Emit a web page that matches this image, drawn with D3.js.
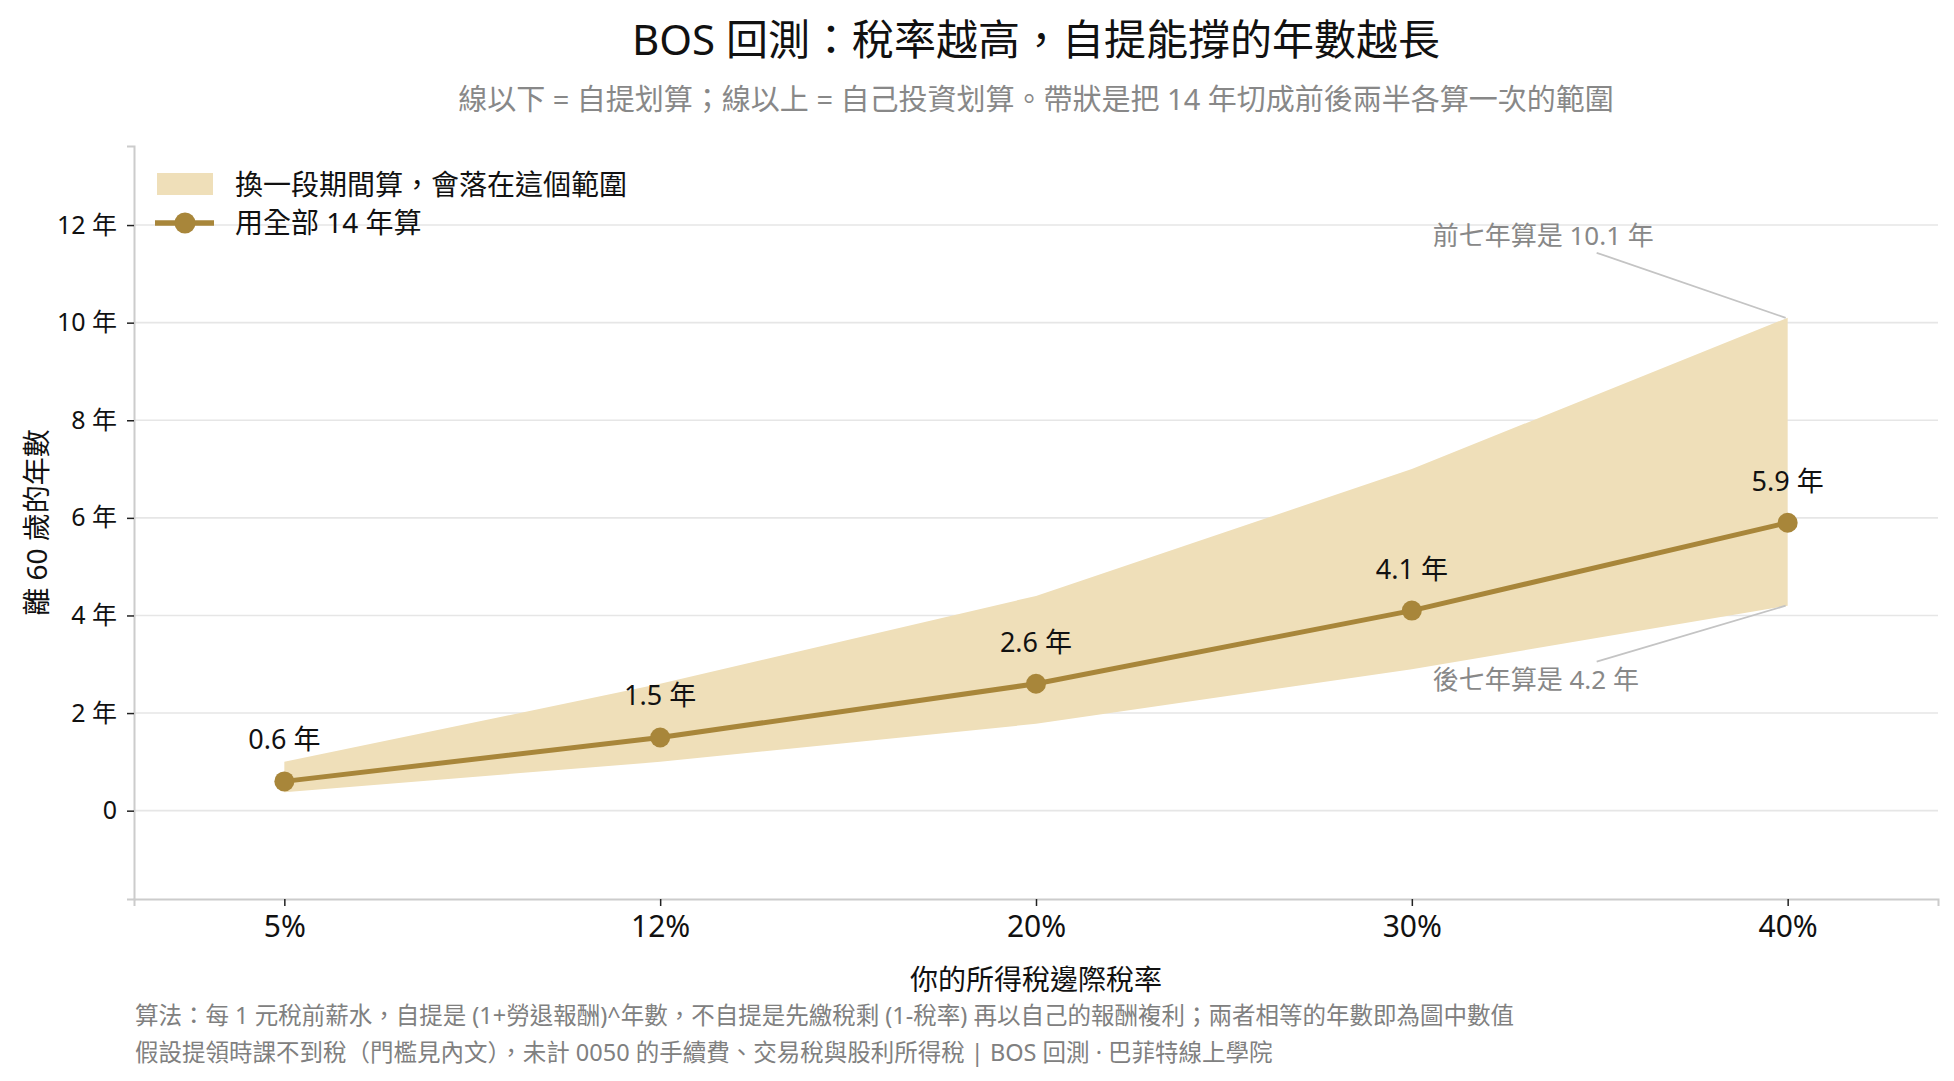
<!DOCTYPE html>
<html>
<head>
<meta charset="utf-8">
<script src="https://cdn.jsdelivr.net/npm/d3@7"></script>
<style>
  body { margin: 0; background: #fff; }
  svg text { font-family: "Noto Sans", "Noto Sans CJK TC", sans-serif; }
</style>
</head>
<body>
<div id="chart"></div>
<script>
// chart data
var rates = ["5%", "12%", "20%", "30%", "40%"];
var fullYears = [0.6, 1.5, 2.6, 4.1, 5.9];      // 用全部 14 年算
var bandHigh = [1.0, 2.6, 4.4, 7.0, 10.1];       // 前七年算
var bandLow = [0.38, 1.0, 1.78, 2.9, 4.2];       // 後七年算
var yTicks = [0, 2, 4, 6, 8, 10, 12];

var svgWidth = 1954;
var svgHeight = 1081;
var margin = { top: 146, right: 16, bottom: 182, left: 134 };
var width = svgWidth - margin.left - margin.right;
var height = svgHeight - margin.top - margin.bottom;

var lineColor = "#a8863a";
var bandColor = "#efdfb9";

var svg = d3.select("#chart").append("svg")
    .attr("width", svgWidth)
    .attr("height", svgHeight);

var chartGroup = svg.append("g")
    .attr("transform", `translate(${margin.left}, ${margin.top})`);

// scales
var xScale = d3.scaleLinear()
    .domain([-0.4, rates.length - 1 + 0.4])
    .range([0, width]);

var yScale = d3.scaleLinear()
    .domain([-1.81, 13.62])
    .range([height, 0]);

// gridlines
chartGroup.append("g")
    .selectAll("line")
    .data(yTicks)
    .enter()
    .append("line")
    .attr("x1", 0)
    .attr("x2", width)
    .attr("y1", d => yScale(d))
    .attr("y2", d => yScale(d))
    .attr("stroke", "#e6e6e6")
    .attr("stroke-width", 1.6);

// band
var area = d3.area()
    .x((d, i) => xScale(i))
    .y0((d, i) => yScale(bandLow[i]))
    .y1((d, i) => yScale(bandHigh[i]));

chartGroup.append("path")
    .datum(rates)
    .attr("d", area)
    .attr("fill", bandColor);

// axes
var xAxis = d3.axisBottom(xScale)
    .tickValues(d3.range(rates.length))
    .tickFormat(i => rates[i])
    .tickSize(7)
    .tickPadding(10);

var yAxis = d3.axisLeft(yScale)
    .tickValues(yTicks)
    .tickFormat(d => d === 0 ? "0" : d + " 年")
    .tickSize(7)
    .tickPadding(10);

var xg = chartGroup.append("g")
    .attr("transform", `translate(0, ${height})`)
    .call(xAxis);
xg.selectAll("text").attr("font-size", 30).attr("fill", "#111");

var yg = chartGroup.append("g").call(yAxis);
yg.selectAll("text").attr("font-size", 25).attr("fill", "#111");

[xg, yg].forEach(function(g) {
  g.select(".domain").attr("stroke", "#cccccc").attr("stroke-width", 2);
  g.selectAll(".tick line").attr("stroke", "#222").attr("stroke-width", 1.5);
});

// main line + points
var line = d3.line()
    .x((d, i) => xScale(i))
    .y(d => yScale(d));

chartGroup.append("path")
    .datum(fullYears)
    .attr("d", line)
    .attr("fill", "none")
    .attr("stroke", lineColor)
    .attr("stroke-width", 5)
    .attr("stroke-linejoin", "round");

chartGroup.selectAll("circle.pt")
    .data(fullYears)
    .enter()
    .append("circle")
    .attr("class", "pt")
    .attr("cx", (d, i) => xScale(i))
    .attr("cy", d => yScale(d))
    .attr("r", 10)
    .attr("fill", lineColor);

// value labels
chartGroup.selectAll("text.val")
    .data(fullYears)
    .enter()
    .append("text")
    .attr("class", "val")
    .attr("x", (d, i) => xScale(i))
    .attr("y", d => yScale(d) - 32)
    .attr("text-anchor", "middle")
    .attr("font-size", 27)
    .attr("fill", "#111")
    .text(d => d.toFixed(1) + " 年");

// annotations for the last band edge
var last = rates.length - 1;
var notes = [
  { value: bandHigh[last], text: "前七年算是 " + bandHigh[last].toFixed(1) + " 年", dy: -82, edge: 17 },
  { value: bandLow[last], text: "後七年算是 " + bandLow[last].toFixed(1) + " 年", dy: 74, edge: -18 }
];
notes.forEach(function(n) {
  var px = xScale(last), py = yScale(n.value);
  chartGroup.append("line")
      .attr("x1", px - 191)
      .attr("y1", py + n.dy + n.edge)
      .attr("x2", px - 2)
      .attr("y2", py)
      .attr("stroke", "#c4c4c4")
      .attr("stroke-width", 1.8);
  chartGroup.append("text")
      .attr("x", px - 355)
      .attr("y", py + n.dy)
      .attr("dy", "0.36em")
      .attr("font-size", 26)
      .attr("fill", "#888")
      .text(n.text);
});

// legend
var legend = svg.append("g");
legend.append("rect")
    .attr("x", 157).attr("y", 173)
    .attr("width", 56).attr("height", 22)
    .attr("fill", bandColor);
legend.append("text")
    .attr("x", 235).attr("y", 185).attr("dy", "0.36em")
    .attr("font-size", 28).attr("fill", "#111")
    .text("換一段期間算，會落在這個範圍");
legend.append("line")
    .attr("x1", 155).attr("x2", 214)
    .attr("y1", 223).attr("y2", 223)
    .attr("stroke", lineColor).attr("stroke-width", 5.5);
legend.append("circle")
    .attr("cx", 185).attr("cy", 223).attr("r", 10.5)
    .attr("fill", lineColor);
legend.append("text")
    .attr("x", 235).attr("y", 223).attr("dy", "0.36em")
    .attr("font-size", 28).attr("fill", "#111")
    .text("用全部 14 年算");

// titles
var cx = margin.left + width / 2;
svg.append("text")
    .attr("x", cx).attr("y", 55)
    .attr("text-anchor", "middle")
    .attr("font-size", 42).attr("fill", "#111")
    .text("BOS 回測：稅率越高，自提能撐的年數越長");
svg.append("text")
    .attr("x", cx).attr("y", 110)
    .attr("text-anchor", "middle")
    .attr("font-size", 29).attr("fill", "#888")
    .text("線以下 = 自提划算；線以上 = 自己投資划算。帶狀是把 14 年切成前後兩半各算一次的範圍");

// axis labels
svg.append("text")
    .attr("x", cx).attr("y", 990)
    .attr("text-anchor", "middle")
    .attr("font-size", 28).attr("fill", "#111")
    .text("你的所得稅邊際稅率");
svg.append("text")
    .attr("transform", `translate(37, ${margin.top + height / 2}) rotate(-90)`)
    .attr("text-anchor", "middle")
    .attr("dy", "0.36em")
    .attr("font-size", 28).attr("fill", "#111")
    .text("離 60 歲的年數");

// footnotes
svg.append("text")
    .attr("x", 135).attr("y", 1024)
    .attr("font-size", 23.5).attr("fill", "#808080")
    .text("算法：每 1 元稅前薪水，自提是 (1+勞退報酬)^年數，不自提是先繳稅剩 (1-稅率) 再以自己的報酬複利；兩者相等的年數即為圖中數值");
svg.append("text")
    .attr("x", 135).attr("y", 1061)
    .attr("font-size", 23.5).attr("fill", "#808080")
    .text("假設提領時課不到稅（門檻見內文），未計 0050 的手續費、交易稅與股利所得稅 | BOS 回測 ·  巴菲特線上學院");
</script>
</body>
</html>
